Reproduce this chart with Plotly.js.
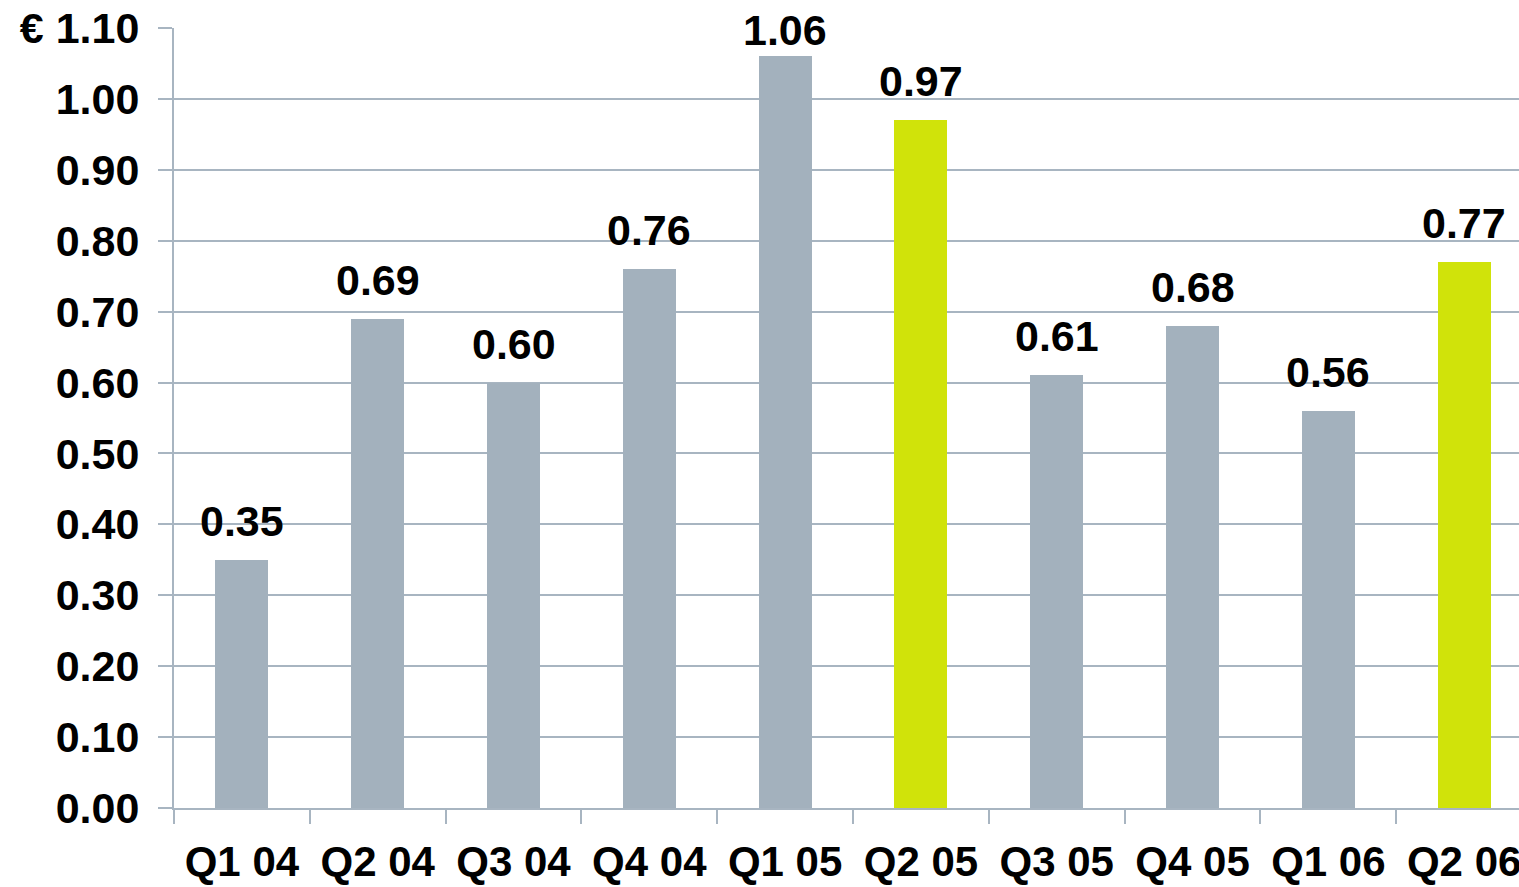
<!DOCTYPE html>
<html>
<head>
<meta charset="utf-8">
<script src="https://cdn.plot.ly/plotly-3.0.1.min.js"></script>
<style>
  html, body { margin: 0; padding: 0; background: #ffffff; }
  #chart { width: 1519px; height: 887px; }
</style>
</head>
<body>
<div id="chart"></div>
<script>
// Quarterly earnings per share, in euros
const quarters = ["Q1 04", "Q2 04", "Q3 04", "Q4 04", "Q1 05", "Q2 05", "Q3 05", "Q4 05", "Q1 06", "Q2 06"];
const eps = [0.35, 0.69, 0.60, 0.76, 1.06, 0.97, 0.61, 0.68, 0.56, 0.77];
// Second quarters are highlighted
const highlighted = [false, false, false, false, false, true, false, false, false, true];
const yTickValues = [0, 0.1, 0.2, 0.3, 0.4, 0.5, 0.6, 0.7, 0.8, 0.9, 1.0, 1.1];
const yTickLabels = ["0.00", "0.10", "0.20", "0.30", "0.40", "0.50", "0.60", "0.70", "0.80", "0.90", "1.00", "€ 1.10"];

const GREY = "#A3B1BD";
const LIME = "#D0E30A";
const LINE = "#A8B5C1";
const FONT = "Liberation Sans, Arial, sans-serif";

const barColors = highlighted.map(h => h ? LIME : GREY);

// Value labels sit above each bar, but never above the top of the axis area
const LABEL_CAP = 1.042;
const labels = quarters.map((q, i) => ({
  x: q,
  y: Math.min(eps[i], LABEL_CAP),
  xref: "x",
  yref: "y",
  text: eps[i].toFixed(2),
  showarrow: false,
  yanchor: "bottom",
  xanchor: "center",
  yshift: 13,
  font: { family: FONT, size: 43, color: "#000000", weight: "bold" }
}));

const data = [{
  type: "bar",
  x: quarters,
  y: eps,
  width: 0.39,
  marker: { color: barColors, line: { width: 0 } },
  hoverinfo: "x+y"
}];

const layout = {
  width: 1519,
  height: 887,
  margin: { l: 174, r: 0, t: 28, b: 79, pad: 0 },
  paper_bgcolor: "#ffffff",
  plot_bgcolor: "#ffffff",
  showlegend: false,
  bargap: 0,
  font: { family: FONT, size: 42, color: "#000000" },
  xaxis: {
    type: "category",
    range: [-0.5, 9.404],
    tickson: "boundaries",
    ticks: "outside",
    ticklen: 14,
    tickwidth: 2,
    tickcolor: LINE,
    showgrid: false,
    showline: true,
    linecolor: LINE,
    linewidth: 2,
    ticklabelstandoff: 16,
    tickfont: { family: FONT, size: 42, color: "#000000", weight: "bold" },
    fixedrange: true
  },
  yaxis: {
    range: [0, 1.1],
    tickmode: "array",
    tickvals: yTickValues,
    ticktext: yTickLabels,
    ticks: "outside",
    ticklen: 14,
    tickwidth: 2,
    tickcolor: LINE,
    showgrid: true,
    gridcolor: LINE,
    gridwidth: 2,
    showline: true,
    linecolor: LINE,
    linewidth: 2,
    zeroline: false,
    ticklabelstandoff: 10,
    tickfont: { family: FONT, size: 43, color: "#000000", weight: "bold" },
    fixedrange: true
  },
  annotations: labels
};

Plotly.newPlot("chart", data, layout, { displayModeBar: false, staticPlot: true });
</script>
</body>
</html>
